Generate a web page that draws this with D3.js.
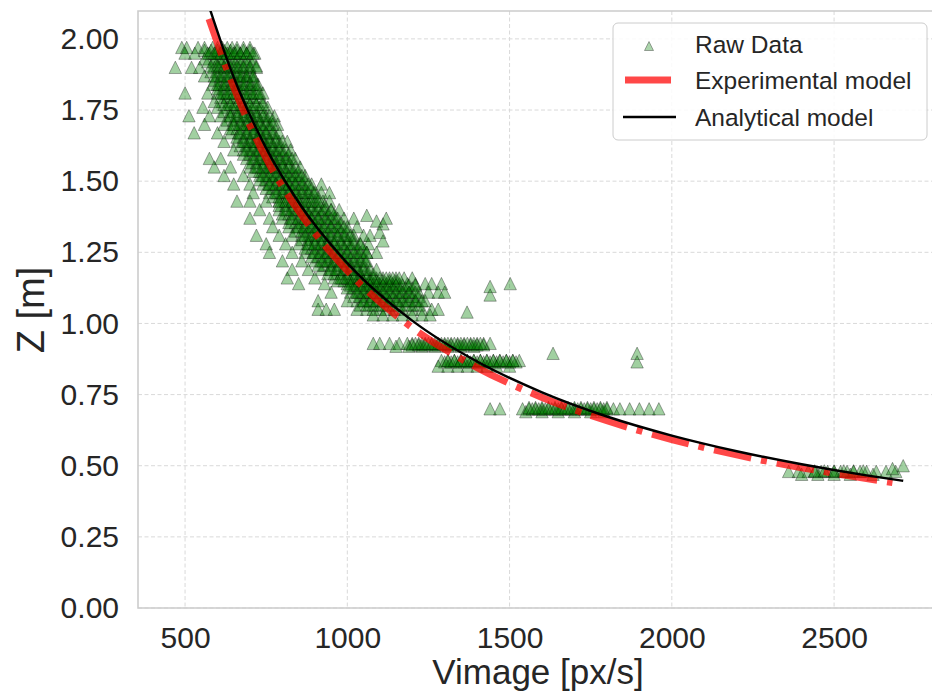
<!DOCTYPE html>
<meta charset="utf-8">
<style>
  body { margin: 0; background: white; }
  text { font-family: "Liberation Sans", Arial, sans-serif; fill: #262626; }
</style>
<div id="container"></div>
<script src="https://cdn.jsdelivr.net/npm/d3@7"></script>
<script>

// raw data (Z level -> image velocities)
const rowZ = [1.97, 1.95, 1.93, 1.90, 1.87, 1.84, 1.81, 1.78, 1.76, 1.73, 1.70, 1.67, 1.64, 1.61,
              1.58, 1.55, 1.52, 1.49, 1.46, 1.43, 1.40, 1.37, 1.34, 1.31, 1.28, 1.25, 1.22, 1.19,
              1.16, 1.14, 1.11, 1.08, 1.05, 1.03, 0.93, 0.92, 0.87, 0.85, 0.70, 0.69, 0.48, 0.47];
const rowV = [
  [490, 505, 540, 560, 585, 600, 615, 630, 645, 660, 680, 700],
  [500, 530, 575, 595, 610, 625, 640, 655, 670, 690, 715],
  [560, 590, 605, 620, 640, 660, 680, 700],
  [470, 520, 545, 590, 605, 620, 635, 650, 665, 680, 700, 720],
  [560, 600, 620, 640, 660, 675, 690, 710],
  [585, 605, 625, 645, 665, 685, 705, 725],
  [500, 570, 600, 620, 640, 660, 680, 700, 720, 740],
  [590, 615, 635, 655, 675, 695, 715, 740],
  [555, 600, 630, 650, 670, 690, 710, 730, 755],
  [512, 575, 610, 640, 665, 685, 705, 725, 750, 775],
  [560, 620, 650, 675, 695, 715, 735, 760, 785],
  [528, 600, 640, 665, 690, 710, 730, 750, 775],
  [620, 660, 685, 705, 725, 745, 765, 790, 815],
  [650, 680, 700, 720, 740, 760, 780, 800, 825],
  [575, 610, 690, 715, 735, 755, 775, 795, 815, 840],
  [590, 640, 700, 725, 745, 765, 785, 805, 830, 855],
  [620, 680, 730, 750, 770, 790, 810, 830, 850, 870],
  [650, 700, 740, 760, 780, 800, 820, 840, 865, 890, 920],
  [710, 760, 785, 805, 825, 845, 870, 895, 920, 945],
  [660, 700, 750, 790, 810, 830, 850, 875, 900, 925, 945],
  [730, 790, 815, 835, 855, 875, 900, 925, 950, 975],
  [700, 760, 800, 825, 850, 870, 890, 910, 935, 960, 990, 1020],
  [770, 820, 845, 865, 885, 905, 925, 950, 975, 1000, 1030],
  [720, 790, 830, 860, 880, 900, 920, 945, 970, 995, 1020, 1050, 1070],
  [750, 810, 850, 880, 900, 920, 940, 960, 985, 1010, 1040, 1065],
  [760, 830, 870, 895, 915, 935, 955, 975, 1000, 1030, 1060, 1090],
  [800, 860, 900, 925, 945, 965, 985, 1005, 1030, 1055],
  [830, 880, 920, 945, 965, 990, 1010, 1035, 1060],
  [815, 900, 960, 985, 1005, 1025, 1045, 1070, 1090, 1110, 1130, 1150, 1175, 1200],
  [850, 930, 1000, 1020, 1040, 1060, 1080, 1100, 1120, 1140, 1160, 1185, 1210, 1240, 1260, 1290],
  [950, 1010, 1035, 1055, 1075, 1095, 1115, 1135, 1160, 1190, 1220, 1250, 1280, 1300],
  [910, 1000, 1030, 1050, 1070, 1090, 1110, 1130, 1155, 1180, 1210, 1240],
  [910, 935, 960, 1030, 1060, 1080, 1100, 1120, 1145, 1170, 1200, 1230, 1260, 1280],
  [1080, 1110, 1140, 1170, 1200, 1230, 1255],
  [1080, 1100, 1130, 1160, 1185, 1200, 1220, 1240, 1260, 1280, 1300, 1320, 1340, 1360, 1380, 1400, 1420, 1440],
  [1150, 1190, 1230, 1270, 1310, 1350, 1390],
  [1290, 1310, 1330, 1350, 1370, 1390, 1410, 1430, 1450, 1470, 1490, 1510, 1530],
  [1280, 1310, 1340, 1370, 1400, 1430, 1460, 1500],
  [1440, 1470, 1540, 1560, 1580, 1600, 1620, 1640, 1660, 1680, 1700, 1720, 1740, 1760, 1780, 1800, 1820, 1840, 1870, 1900, 1930, 1960],
  [1550, 1600, 1650, 1700, 1750, 1790],
  [2360, 2390, 2420, 2440, 2460, 2480, 2500, 2520, 2540, 2560, 2580, 2600, 2630, 2660, 2690],
  [2400, 2450, 2500, 2550, 2620]
];
// the dark core of the band, where points pile up
const coreZ = [1.96, 1.92, 1.885, 1.855, 1.825, 1.795, 1.745, 1.715, 1.685, 1.655, 1.625, 1.595, 1.565,
               1.535, 1.505, 1.475, 1.445, 1.415, 1.385, 1.355, 1.325, 1.295, 1.265, 1.235, 1.205,
               1.175, 1.15, 1.125, 1.095, 1.065, 0.925, 0.865, 0.705, 0.482];
const coreV = [
  [560, 580, 600, 620, 640, 660, 680, 700],
  [570, 590, 610, 630, 650, 670, 690, 710],
  [580, 600, 620, 640, 660, 680, 700],
  [590, 610, 630, 650, 670, 690, 710],
  [600, 620, 640, 660, 680, 700, 720],
  [610, 630, 650, 670, 690, 710, 730],
  [620, 640, 660, 680, 700, 720, 740],
  [630, 650, 670, 690, 710, 730, 750, 770],
  [640, 660, 680, 700, 720, 740, 760],
  [660, 680, 700, 720, 740, 760, 780],
  [670, 690, 710, 730, 750, 770, 790],
  [680, 700, 720, 740, 760, 780, 800, 820],
  [700, 720, 740, 760, 780, 800, 820],
  [710, 730, 750, 770, 790, 810, 830, 850],
  [730, 750, 770, 790, 810, 830, 850, 870],
  [750, 770, 790, 810, 830, 850, 870, 890],
  [770, 790, 810, 830, 850, 870, 890, 910],
  [790, 810, 830, 850, 870, 890, 910, 930],
  [800, 820, 840, 860, 880, 900, 920, 940, 960],
  [820, 840, 860, 880, 900, 920, 940, 960, 980],
  [840, 860, 880, 900, 920, 940, 960, 980, 1000],
  [860, 880, 900, 920, 940, 960, 980, 1000, 1020],
  [870, 890, 910, 930, 950, 970, 990, 1010, 1030, 1050],
  [890, 910, 930, 950, 970, 990, 1010, 1030, 1050],
  [910, 930, 950, 970, 990, 1010, 1030, 1050],
  [940, 960, 980, 1000, 1020, 1040, 1060, 1080],
  [970, 990, 1010, 1030, 1050, 1070, 1090, 1110, 1130, 1150],
  [1000, 1020, 1040, 1060, 1080, 1100, 1120, 1140, 1160, 1180, 1200],
  [1020, 1040, 1060, 1080, 1100, 1120, 1140, 1160, 1180, 1200, 1220],
  [1040, 1060, 1080, 1100, 1120, 1140, 1160, 1180, 1200, 1220],
  [1200, 1220, 1240, 1260, 1280, 1300, 1320, 1340, 1360, 1380, 1400, 1420],
  [1300, 1320, 1340, 1360, 1380, 1400, 1420, 1440, 1460, 1480, 1500, 1520],
  [1560, 1580, 1600, 1620, 1640, 1660, 1680, 1700, 1720, 1740, 1760, 1780, 1800],
  [2440, 2470, 2500, 2530, 2560, 2590]
];
// second pass over the core (repeated measurements stacked on each other)
const core2Z = [1.95, 1.905, 1.87, 1.84, 1.81, 1.77, 1.73, 1.70, 1.67, 1.64, 1.61, 1.58, 1.55, 1.52,
                1.49, 1.46, 1.43, 1.40, 1.37, 1.34, 1.31, 1.28, 1.25, 1.22, 1.19, 1.16, 1.135, 1.11,
                1.08, 0.93, 0.87, 0.70];
const core2V = [
  [570, 590, 610, 630, 650, 670, 690, 710],
  [580, 600, 620, 640, 660, 680, 700, 720],
  [590, 610, 630, 650, 670, 690, 710],
  [600, 620, 640, 660, 680, 700, 720],
  [610, 630, 650, 670, 690, 710, 730],
  [620, 640, 660, 680, 700, 720, 740],
  [640, 660, 680, 700, 720, 740, 760],
  [650, 670, 690, 710, 730, 750, 770],
  [670, 690, 710, 730, 750, 770, 790],
  [680, 700, 720, 740, 760, 780, 800],
  [690, 710, 730, 750, 770, 790, 810],
  [710, 730, 750, 770, 790, 810, 830],
  [720, 740, 760, 780, 800, 820, 840],
  [740, 760, 780, 800, 820, 840, 860],
  [760, 780, 800, 820, 840, 860, 880],
  [780, 800, 820, 840, 860, 880, 900],
  [790, 810, 830, 850, 870, 890, 910],
  [810, 830, 850, 870, 890, 910, 930, 950],
  [830, 850, 870, 890, 910, 930, 950, 970],
  [850, 870, 890, 910, 930, 950, 970, 990],
  [870, 890, 910, 930, 950, 970, 990, 1010],
  [880, 900, 920, 940, 960, 980, 1000, 1020, 1040],
  [900, 920, 940, 960, 980, 1000, 1020, 1040, 1060],
  [920, 940, 960, 980, 1000, 1020, 1040, 1060],
  [950, 970, 990, 1010, 1030, 1050, 1070, 1090],
  [980, 1000, 1020, 1040, 1060, 1080, 1100, 1120, 1140, 1160],
  [1010, 1030, 1050, 1070, 1090, 1110, 1130, 1150, 1170, 1190, 1210],
  [1030, 1050, 1070, 1090, 1110, 1130, 1150, 1170, 1190, 1210],
  [1050, 1070, 1090, 1110, 1130, 1150, 1170, 1190, 1210, 1230],
  [1210, 1230, 1250, 1270, 1290, 1310, 1330, 1350, 1370, 1390, 1410],
  [1310, 1330, 1350, 1370, 1390, 1410, 1430, 1450, 1470, 1490, 1510],
  [1570, 1590, 1610, 1630, 1650, 1670, 1690, 1710, 1730, 1750, 1770, 1790]
];
// scattered points off the rows
const outV = [1060, 1090, 1110, 1120, 1100, 1110, 1440, 1440, 1502, 1369, 1634, 1893, 1893, 2713, 2680];
const outZ = [1.38, 1.36, 1.35, 1.37, 1.32, 1.29, 1.13, 1.10, 1.14, 1.04, 0.895, 0.895, 0.865, 0.50, 0.49];

// model curves
const expV = [574, 650, 750, 850, 1000, 1200, 1400, 1600, 1800, 2000, 2200, 2400, 2600, 2680];
const expZ = [2.07, 1.83, 1.58, 1.395, 1.185, 0.985, 0.845, 0.74, 0.658, 0.592, 0.538, 0.493, 0.455, 0.441];
const anaV = [565, 650, 750, 850, 1000, 1200, 1400, 1600, 1800, 2000, 2200, 2400, 2600, 2713];
const anaZ = [2.145, 1.865, 1.616, 1.426, 1.212, 1.01, 0.866, 0.758, 0.673, 0.606, 0.551, 0.505, 0.466, 0.447];

const xTicks = [500, 1000, 1500, 2000, 2500];
const yTicks = [0, 0.25, 0.5, 0.75, 1.0, 1.25, 1.5, 1.75, 2.0];
const legendLabels = ["Raw Data", "Experimental model", "Analytical model"];

const points = [];
rowZ.forEach((z, i) => rowV[i].forEach(v => points.push({v, z})));
coreZ.forEach((z, i) => coreV[i].forEach(v => points.push({v, z})));
core2Z.forEach((z, i) => core2V[i].forEach(v => points.push({v, z})));
outV.forEach((v, i) => points.push({v, z: outZ[i]}));

const width = 932, height = 695;
const pLeft = 138, pTop = 11, pRight = 960, pBottom = 608;

const x = d3.scaleLinear().domain([355, 2888]).range([pLeft, pRight]);
const y = d3.scaleLinear().domain([0, 2.098]).range([pBottom, pTop]);

const svg = d3.create("svg").attr("width", width).attr("height", height);

svg.append("clipPath").attr("id", "plot")
  .append("rect").attr("x", pLeft).attr("y", pTop).attr("width", pRight - pLeft).attr("height", pBottom - pTop);

// grid
svg.append("g").selectAll("line").data(xTicks).join("line")
  .attr("x1", d => x(d)).attr("x2", d => x(d)).attr("y1", pTop).attr("y2", pBottom)
  .attr("stroke", "#d9d9d9").attr("stroke-dasharray", "4,2.5");
svg.append("g").selectAll("line").data(yTicks).join("line")
  .attr("x1", pLeft).attr("x2", pRight).attr("y1", d => y(d)).attr("y2", d => y(d))
  .attr("stroke", "#d9d9d9").attr("stroke-dasharray", "4,2.5");

// spines
svg.append("path")
  .attr("d", `M${pRight},${pTop}H${pLeft}V${pBottom}H${pRight}`)
  .attr("fill", "none").attr("stroke", "#cccccc").attr("stroke-width", 1.6);

// axes
const xAxis = svg.append("g").attr("transform", `translate(0,${pBottom})`)
  .call(d3.axisBottom(x).tickValues(xTicks).tickFormat(d3.format("d")).tickSize(0).tickPadding(19));
const yAxis = svg.append("g").attr("transform", `translate(${pLeft},0)`)
  .call(d3.axisLeft(y).tickValues(yTicks).tickFormat(d3.format(".2f")).tickSize(0).tickPadding(19));
[xAxis, yAxis].forEach(a => {
  a.select(".domain").remove();
  a.selectAll("text").attr("font-size", 30).attr("font-family", null).attr("fill", "#262626");
});

const plot = svg.append("g").attr("clip-path", "url(#plot)");

// matplotlib-like "^" marker: as tall as it is wide
const triUp = s => `M0,${-s}L${s},${s}L${-s},${s}Z`;
plot.append("g").selectAll("path").data(points).join("path")
  .attr("d", triUp(6.2))
  .attr("transform", d => `translate(${x(d.v)},${y(d.z)})`)
  .attr("fill", "green").attr("fill-opacity", 0.37)
  .attr("stroke", "black").attr("stroke-opacity", 0.37).attr("stroke-width", 0.9);

const line = d3.line().x(d => x(d[0])).y(d => y(d[1])).curve(d3.curveMonotoneX);

plot.append("path")
  .attr("d", line(d3.zip(expV, expZ)))
  .attr("fill", "none").attr("stroke", "red").attr("stroke-opacity", 0.72)
  .attr("stroke-width", 7).attr("stroke-dasharray", "38,10,6,10");

plot.append("path")
  .attr("d", line(d3.zip(anaV, anaZ)))
  .attr("fill", "none").attr("stroke", "black").attr("stroke-width", 2.4);

// axis labels
const xl = svg.append("text").attr("x", 538).attr("y", 684).attr("text-anchor", "middle").attr("font-size", 35);
xl.append("tspan").text("V");
xl.append("tspan").text("image [px/s]");

svg.append("text").attr("transform", "translate(44,310) rotate(-90)")
  .attr("text-anchor", "middle").attr("font-size", 38).text("Z [m]");

// legend
const lg = svg.append("g");
lg.append("rect").attr("x", 613).attr("y", 23).attr("width", 314).attr("height", 117).attr("rx", 5)
  .attr("fill", "white").attr("fill-opacity", 0.85).attr("stroke", "#cccccc").attr("stroke-width", 1);
lg.append("path").attr("d", triUp(4.5))
  .attr("transform", "translate(649,46)")
  .attr("fill", "green").attr("fill-opacity", 0.33).attr("stroke", "black").attr("stroke-opacity", 0.33);
lg.append("line").attr("x1", 625).attr("x2", 671).attr("y1", 80).attr("y2", 80)
  .attr("stroke", "red").attr("stroke-opacity", 0.72).attr("stroke-width", 7);
lg.append("line").attr("x1", 623).attr("x2", 676).attr("y1", 117).attr("y2", 117)
  .attr("stroke", "black").attr("stroke-width", 2.4);
lg.selectAll("text.lab").data(legendLabels).join("text").attr("class", "lab")
  .attr("x", 695).attr("y", (d, i) => 44 + i * 36.5).attr("dy", "0.35em")
  .attr("font-size", 24.5).text(d => d);

document.getElementById("container").append(svg.node());
</script>
